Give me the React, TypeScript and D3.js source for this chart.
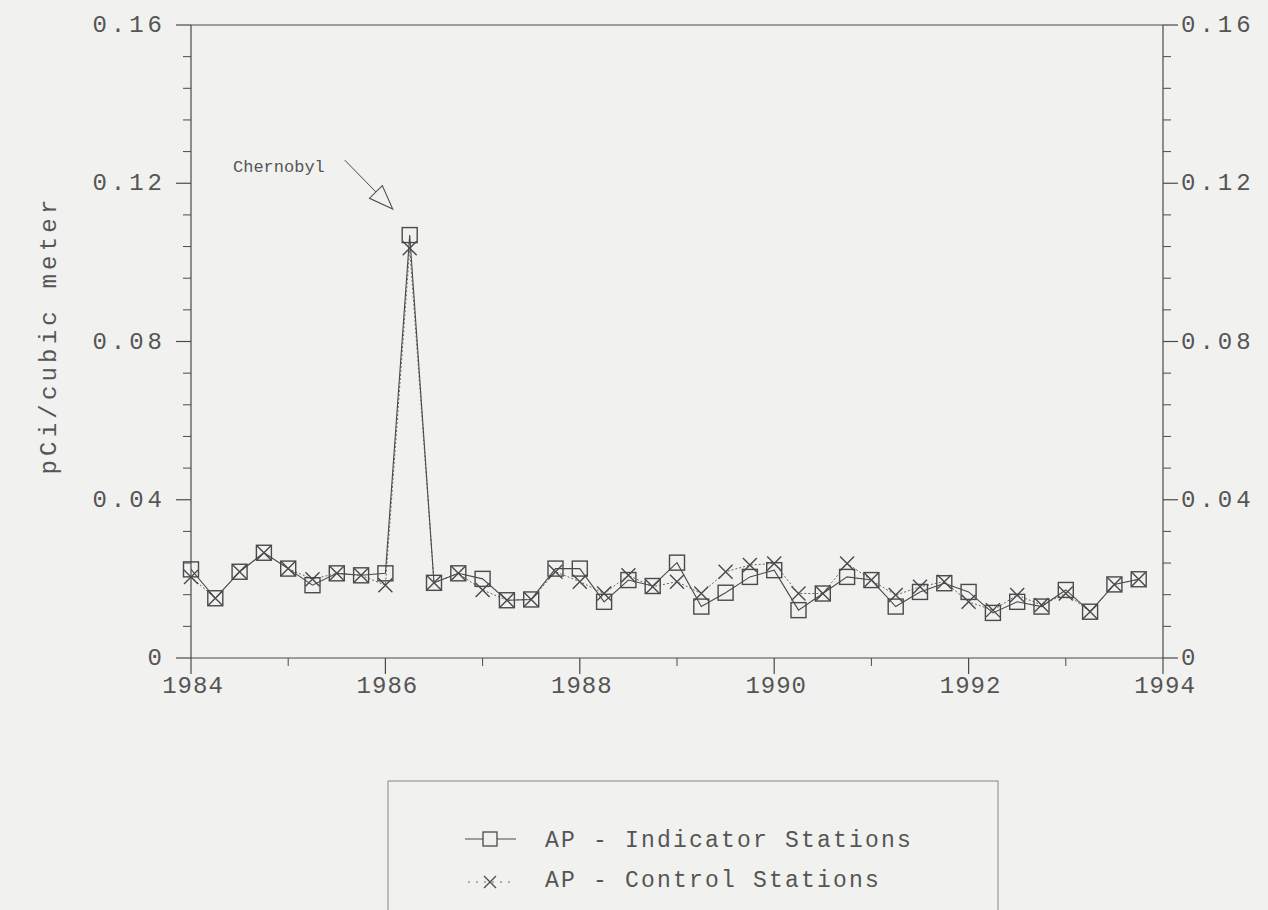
import React from "react";
import * as d3 from "d3";

const quarters = [
  1984.0, 1984.25, 1984.5, 1984.75, 1985.0, 1985.25, 1985.5, 1985.75,
  1986.0, 1986.25, 1986.5, 1986.75, 1987.0, 1987.25, 1987.5, 1987.75,
  1988.0, 1988.25, 1988.5, 1988.75, 1989.0, 1989.25, 1989.5, 1989.75,
  1990.0, 1990.25, 1990.5, 1990.75, 1991.0, 1991.25, 1991.5, 1991.75,
  1992.0, 1992.25, 1992.5, 1992.75, 1993.0, 1993.25, 1993.5, 1993.75,
];

const indicator = [
  0.0224, 0.0151, 0.0218, 0.0266, 0.0226, 0.0184, 0.0214, 0.0209,
  0.0214, 0.1069, 0.019, 0.0214, 0.02, 0.0146, 0.0148, 0.0226,
  0.0226, 0.0142, 0.0197, 0.0182, 0.0241, 0.013, 0.0165, 0.0205,
  0.0222, 0.0121, 0.0163, 0.0205, 0.0197, 0.013, 0.0167, 0.0189,
  0.0167, 0.0114, 0.0142, 0.013, 0.0172, 0.0117, 0.0186, 0.0199,
];

const control = [
  0.0205, 0.0151, 0.0218, 0.0266, 0.0226, 0.0199, 0.0214, 0.0209,
  0.0184, 0.1036, 0.019, 0.0214, 0.0172, 0.0146, 0.0148, 0.0218,
  0.0193, 0.0163, 0.0209, 0.018, 0.0193, 0.0163, 0.0218, 0.0235,
  0.0239, 0.0163, 0.0163, 0.0239, 0.0197, 0.0159, 0.018, 0.0193,
  0.0142, 0.0121, 0.0159, 0.0134, 0.0163, 0.0117, 0.0186, 0.0199,
];

const yTicks = [0, 0.04, 0.08, 0.12, 0.16];
const yTickLabels = ["0", "0.04", "0.08", "0.12", "0.16"];
const xTicks = [1984, 1986, 1988, 1990, 1992, 1994];
const xMinorTicks = [1985, 1987, 1989, 1991, 1993];
const seriesNames = ["AP - Indicator Stations", "AP - Control Stations"];
const annotationText = "Chernobyl";
const yTitle = "pCi/cubic meter";

const FONT = "'Liberation Mono', 'DejaVu Sans Mono', monospace";
const INK = "#4a4a4a";
const TXT = "#555";
const BG = "#f1f1f0";

export default function App() {
  const left = 191, right = 1163, top = 25, bottom = 658;
  const x = d3.scaleLinear().domain([1984, 1994]).range([left, right]);
  const y = d3.scaleLinear().domain([0, 0.16]).range([bottom, top]);
  const yMinor = d3.range(0, 0.1601, 0.008).filter(
    (v) => !yTicks.some((t) => Math.abs(t - v) < 1e-6)
  );

  const lineGen = d3
    .line<number>()
    .x((_, i) => x(quarters[i]))
    .y((d) => y(d));

  const sq = 7.5;
  const xs = 7;

  // Chernobyl arrow
  const spikeIdx = indicator.indexOf(d3.max(indicator) as number);
  const px = x(quarters[spikeIdx]);
  const py = y(indicator[spikeIdx]);
  const tip = [px - 17, py - 26];
  const start = [px - 65, py - 75];
  const dx = tip[0] - start[0], dy = tip[1] - start[1];
  const len = Math.hypot(dx, dy);
  const ux = dx / len, uy = dy / len;
  const hl = 24, hw = 9;
  const bc = [tip[0] - ux * hl, tip[1] - uy * hl];
  const c1 = [bc[0] - uy * hw, bc[1] + ux * hw];
  const c2 = [bc[0] + uy * hw, bc[1] - ux * hw];

  const legX = 388, legY = 781, legW = 610, legH = 140;

  return (
    <svg
      width={1268}
      height={910}
      style={{ position: "absolute", left: 0, top: 0, background: BG }}
    >
      <rect x={0} y={0} width={1268} height={910} fill={BG} />

      {/* frame */}
      <line x1={left} y1={top} x2={right} y2={top} stroke={INK} strokeWidth={1.2} />
      <line x1={left} y1={top} x2={left} y2={bottom} stroke={INK} strokeWidth={1.2} />
      <line x1={right} y1={top} x2={right} y2={bottom} stroke={INK} strokeWidth={1.2} />
      <line x1={left} y1={bottom} x2={right} y2={bottom} stroke={INK} strokeWidth={1.2} />

      {/* y major ticks & labels */}
      {yTicks.map((t, i) => (
        <g key={"y" + t}>
          <line x1={left - 15} x2={left} y1={y(t)} y2={y(t)} stroke={INK} strokeWidth={1.2} />
          <line x1={right} x2={right + 15} y1={y(t)} y2={y(t)} stroke={INK} strokeWidth={1.2} />
          <text
            x={166}
            y={y(t) + 7}
            textAnchor="end"
            fontFamily={FONT}
            fontSize={24}
            letterSpacing={4}
            fill={TXT}
          >
            {yTickLabels[i]}
          </text>
          <text
            x={1181}
            y={y(t) + 7}
            textAnchor="start"
            fontFamily={FONT}
            fontSize={24}
            letterSpacing={4}
            fill={TXT}
          >
            {yTickLabels[i]}
          </text>
        </g>
      ))}
      {yMinor.map((t) => (
        <g key={"ym" + t}>
          <line x1={left - 8} x2={left} y1={y(t)} y2={y(t)} stroke={INK} strokeWidth={1} />
          <line x1={right} x2={right + 8} y1={y(t)} y2={y(t)} stroke={INK} strokeWidth={1} />
        </g>
      ))}

      {/* x ticks */}
      {xTicks.map((t) => (
        <g key={"x" + t}>
          <line x1={x(t)} x2={x(t)} y1={bottom} y2={bottom + 16} stroke={INK} strokeWidth={1.2} />
          <text
            x={x(t) + 2}
            y={693}
            textAnchor="middle"
            fontFamily={FONT}
            fontSize={24}
            letterSpacing={1}
            fill={TXT}
          >
            {t}
          </text>
        </g>
      ))}
      {xMinorTicks.map((t) => (
        <line key={"xm" + t} x1={x(t)} x2={x(t)} y1={bottom} y2={bottom + 8} stroke={INK} strokeWidth={1} />
      ))}

      {/* y title */}
      <text
        transform={`translate(56, 335) rotate(-90)`}
        textAnchor="middle"
        fontFamily={FONT}
        fontSize={24}
        letterSpacing={4.2}
        fill={TXT}
      >
        {yTitle}
      </text>

      {/* series lines */}
      <path d={lineGen(control) || ""} fill="none" stroke="#666" strokeWidth={1} strokeDasharray="2,2" />
      <path d={lineGen(indicator) || ""} fill="none" stroke={INK} strokeWidth={1.1} />

      {/* markers */}
      {indicator.map((v, i) => (
        <rect
          key={"s" + i}
          x={x(quarters[i]) - sq}
          y={y(v) - sq}
          width={sq * 2}
          height={sq * 2}
          fill="none"
          stroke={INK}
          strokeWidth={1.4}
        />
      ))}
      {control.map((v, i) => {
        const cx = x(quarters[i]);
        const cy = y(v);
        return (
          <path
            key={"c" + i}
            d={`M${cx - xs},${cy - xs}L${cx + xs},${cy + xs}M${cx - xs},${cy + xs}L${cx + xs},${cy - xs}`}
            stroke={INK}
            strokeWidth={1.4}
            fill="none"
          />
        );
      })}

      {/* annotation */}
      <text x={233} y={172} fontFamily={FONT} fontSize={17} fill={TXT}>
        {annotationText}
      </text>
      <line x1={start[0]} y1={start[1]} x2={bc[0]} y2={bc[1]} stroke={INK} strokeWidth={1} />
      <path
        d={`M${tip[0]},${tip[1]}L${c1[0]},${c1[1]}L${c2[0]},${c2[1]}Z`}
        fill="none"
        stroke={INK}
        strokeWidth={1.1}
      />

      {/* legend */}
      <rect x={legX} y={legY} width={legW} height={legH} fill="none" stroke="#888" strokeWidth={1} />
      <g>
        <line x1={465} x2={516} y1={839} y2={839} stroke={INK} strokeWidth={1.1} />
        <rect x={483} y={832} width={14} height={14} fill={BG} stroke={INK} strokeWidth={1.3} />
        <text x={545} y={847} fontFamily={FONT} fontSize={23} letterSpacing={2.2} fill={TXT}>
          {seriesNames[0]}
        </text>
      </g>
      <g>
        <line x1={468} x2={514} y1={882} y2={882} stroke="#666" strokeWidth={1} strokeDasharray="2,6" />
        <path d="M484,876L496,888M484,888L496,876" stroke={INK} strokeWidth={1.3} fill="none" />
        <text x={545} y={887} fontFamily={FONT} fontSize={23} letterSpacing={2.2} fill={TXT}>
          {seriesNames[1]}
        </text>
      </g>
    </svg>
  );
}
